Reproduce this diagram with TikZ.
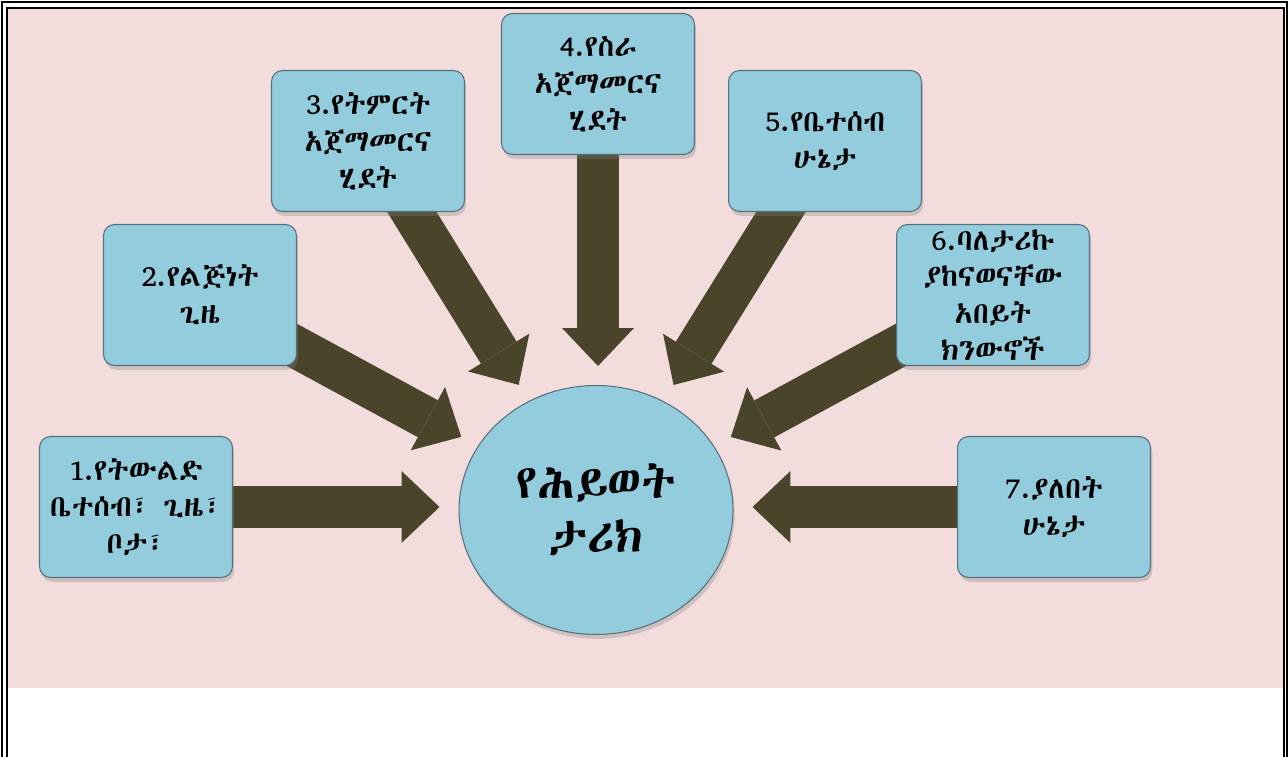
\documentclass[tikz,border=0pt]{standalone}
\usepackage{fontspec}
\IfFontExistsTF{Abyssinica SIL}{\newfontfamily\ethfont{Abyssinica SIL}}{%
  \IfFontExistsTF{FreeSerif}{\newfontfamily\ethfont{FreeSerif}}{\newfontfamily\ethfont{DejaVu Sans}}}
\usetikzlibrary{arrows.meta,shadows,shapes.geometric}
\definecolor{pinkbg}{RGB}{242,221,220}
\definecolor{boxblue}{RGB}{146,204,221}
\definecolor{boxline}{RGB}{88,112,122}
\definecolor{arrowbrown}{RGB}{74,68,43}
\pgfdeclarelayer{bg}
\pgfsetlayers{bg,main}
\tikzset{
  infobox/.style={draw=boxline, line width=0.6pt, fill=boxblue, rounded corners=0.22cm,
    minimum width=3.86cm, minimum height=2.82cm, inner sep=1pt, align=center,
    font=\ethfont\fontsize{17}{21}\selectfont,
    drop shadow={opacity=0.3, shadow xshift=1pt, shadow yshift=-2.5pt}},
  bigarrow/.style={draw=arrowbrown, line width=0.84cm,
    -{Triangle[width=1.44cm, length=0.76cm, line width=0pt]}, shorten >=0.38cm},
}

\begin{document}
\begin{tikzpicture}[x=0.02cm, y=-0.02cm]
	%%%%% START %%%%%
	\useasboundingbox (0, 0) rectangle (1288, 757);
	
	\begin{pgfonlayer}{bg}
		\fill[pinkbg] (8, 9) rectangle (1284, 688);
	\end{pgfonlayer}
	
	\draw[line width=1.4pt] (2, 757) -- (2, 2) -- (1287, 2) -- (1287, 757);
	\draw[line width=0.6pt] (7, 757) -- (7, 8) -- (1284, 8) -- (1284, 757);
	
	\node[infobox] (b1) at (136, 507) {1.የትውልድ\\ቤተሰብ፣ ጊዜ፣\\ቦታ፣};
	\node[infobox] (b2) at (200, 295) {2.የልጅነት\\ጊዜ};
	\node[infobox] (b3) at (368, 141) {3.የትምርት\\አጀማመርና\\ሂደት};
	\node[infobox] (b4) at (598, 84) {4.የስራ\\አጀማመርና\\ሂደት};
	\node[infobox] (b5) at (825, 141) {5.የቤተሰብ\\ሁኔታ};
	\node[infobox] (b6) at (993, 295) {6.ባለታሪኩ\\ያከናወናቸው\\አበይት\\ክንውኖች};
	\node[infobox] (b7) at (1054, 507) {7.ያለበት\\ሁኔታ};
	
	\node[ellipse, draw=boxline, line width=0.6pt, fill=boxblue, minimum width=5.48cm, minimum height=4.98cm,
		align=center, font=\ethfont\fontsize{27}{31}\selectfont,
		drop shadow={opacity=0.3, shadow xshift=1pt, shadow yshift=-2.5pt}] (c) at (596, 510) {የሕይወት\\ታሪክ};
	
	\begin{pgfonlayer}{bg}
		\draw[bigarrow] (b1.center) -- (b1.center -| c.west);
		\draw[bigarrow] (b2.center) -- (c);
		\draw[bigarrow] (b3.center) -- (c);
		\draw[bigarrow] (b4.center) -- (b4.center |- c.north);
		\draw[bigarrow] (b5.center) -- (c);
		\draw[bigarrow] (b6.center) -- (c);
		\draw[bigarrow] (b7.center) -- (b7.center -| c.east);
	\end{pgfonlayer}
	%%%%% END %%%%%
\end{tikzpicture}
\end{document}
